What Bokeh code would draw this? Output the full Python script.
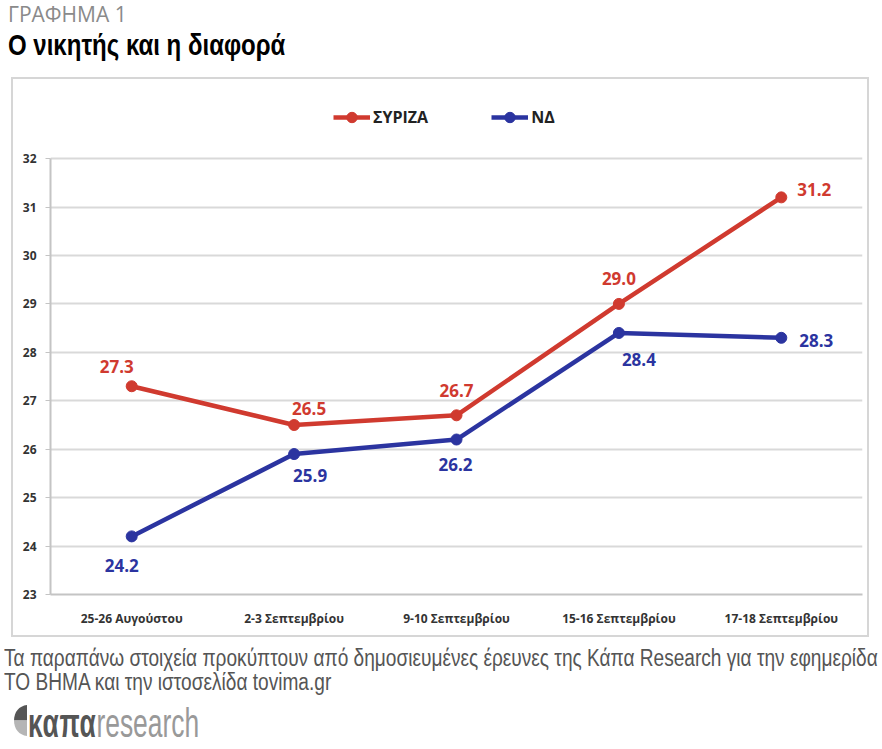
from bokeh.plotting import figure
from bokeh.models import ColumnDataSource, Legend, LegendItem, Div
from bokeh.core.properties import value
from bokeh.layouts import column
from bokeh.embed import file_html
from bokeh.resources import INLINE

# data
dates = ["25-26 Αυγούστου", "2-3 Σεπτεμβρίου", "9-10 Σεπτεμβρίου",
         "15-16 Σεπτεμβρίου", "17-18 Σεπτεμβρίου"]
syriza = [27.3, 26.5, 26.7, 29.0, 31.2]
nd = [24.2, 25.9, 26.2, 28.4, 28.3]
y_ticks = [23, 24, 25, 26, 27, 28, 29, 30, 31, 32]

# where the value labels sit, in px from their point
syriza_dx = [-15, 15, 0, 0, 33]
syriza_dy = [-20, -16, -25, -25, -8]
nd_dx = [-10, 16, -1, 20, 35]
nd_dy = [29, 21, 25, 27, 3]

RED = "#d03a2f"
BLUE = "#2b34a0"
FONT = "Open Sans"
SANS = "'Liberation Sans', Arial, sans-serif"

header = Div(width=882, height=77, margin=0, text=f"""
<div style="position:relative;width:882px;height:77px;">
 <div style="position:absolute;left:8px;top:4px;font-family:'Open Sans';font-size:21px;line-height:21px;color:#8a8a8a;white-space:nowrap;">ΓΡΑΦΗΜΑ 1</div>
 <div style="position:absolute;left:8px;top:30px;font-family:{SANS};font-weight:bold;font-size:30px;line-height:30px;color:#000;white-space:nowrap;transform:scaleX(0.8);transform-origin:0 0;">Ο νικητής και η διαφορά</div>
</div>""")

# frame runs up into the legend strip; the axis itself stops at 32
p = figure(x_range=dates, y_range=(23, 33.2), width=858, height=560,
           min_border_left=37, min_border_right=9, min_border_top=21, min_border_bottom=45,
           output_backend="svg", toolbar_location=None, margin=(0, 0, 0, 11),
           styles={"border": "2px solid #d6d6d6"})
p.outline_line_color = None
p.background_fill_color = "white"
p.border_fill_color = "white"

p.xgrid.grid_line_color = None
p.ygrid.grid_line_color = "#d9d9d9"
p.ygrid.grid_line_width = 2

p.yaxis.ticker = y_ticks
p.yaxis.bounds = (23, 32)
p.yaxis.axis_line_color = "#c4c4c4"
p.yaxis.axis_line_width = 2
p.yaxis.major_tick_line_color = "#c4c4c4"
p.yaxis.major_tick_in = 0
p.yaxis.major_tick_out = 5
p.yaxis.minor_tick_line_color = None
p.yaxis.major_label_standoff = 9
p.yaxis.major_label_text_font = FONT
p.yaxis.major_label_text_font_style = "bold"
p.yaxis.major_label_text_font_size = "12px"
p.yaxis.major_label_text_color = "#333333"

p.xaxis.axis_line_color = "#c4c4c4"
p.xaxis.axis_line_width = 2
p.xaxis.major_tick_line_color = None
p.xaxis.major_label_standoff = 9
p.xaxis.major_label_text_font = FONT
p.xaxis.major_label_text_font_style = "bold"
p.xaxis.major_label_text_font_size = "12px"
p.xaxis.major_label_text_color = "#333333"

src_s = ColumnDataSource(dict(x=dates, y=syriza, t=[f"{v:.1f}" for v in syriza],
                              dx=syriza_dx, dy=syriza_dy))
src_n = ColumnDataSource(dict(x=dates, y=nd, t=[f"{v:.1f}" for v in nd],
                              dx=nd_dx, dy=nd_dy))

ls = p.line("x", "y", source=src_s, color=RED, line_width=4.5)
ms = p.scatter("x", "y", source=src_s, color=RED, size=11)
ln = p.line("x", "y", source=src_n, color=BLUE, line_width=4.5)
mn = p.scatter("x", "y", source=src_n, color=BLUE, size=11)

for src, c in ((src_s, RED), (src_n, BLUE)):
    p.text("x", "y", text="t", source=src, x_offset="dx", y_offset="dy",
           text_color=c, text_font=value(FONT), text_font_style="bold",
           text_font_size="17px", text_align="center", text_baseline="middle")

legend = Legend(items=[LegendItem(label="ΣΥΡΙΖΑ", renderers=[ls, ms]),
                       LegendItem(label="ΝΔ", renderers=[ln, mn])],
                orientation="horizontal", location=(283, 464),
                glyph_width=37, glyph_height=26, label_standoff=3, spacing=63,
                padding=0, margin=0, border_line_color=None, background_fill_alpha=0,
                label_text_font=FONT, label_text_font_style="bold",
                label_text_font_size="16px", label_text_color="#222222")
p.add_layout(legend, "center")

footer = Div(width=882, height=108, margin=0, text=f"""
<div style="position:relative;width:882px;height:108px;">
 <div style="position:absolute;left:4px;top:9px;font-family:{SANS};font-size:23px;line-height:24px;color:#555555;white-space:nowrap;transform:scaleX(0.83);transform-origin:0 0;">Τα παραπάνω στοιχεία προκύπτουν από δημοσιευμένες έρευνες της Κάπα Research για την εφημερίδα<br>ΤΟ ΒΗΜΑ και την ιστοσελίδα tovima.gr</div>
 <svg style="position:absolute;left:14px;top:68px;" width="13" height="31" viewBox="0 0 13 31">
  <path d="M13 0 L13 15.5 L0 15.5 C0 7 5 1 13 0 Z" fill="#555555"/>
  <path d="M13 15.5 L13 31 C5 30 0 24 0 15.5 Z" fill="#b5b5b5"/>
 </svg>
 <div style="position:absolute;left:28px;top:66px;font-family:{SANS};font-size:40px;line-height:40px;white-space:nowrap;transform:scaleX(0.66);transform-origin:0 0;">
  <span style="font-weight:bold;color:#555555;letter-spacing:1px;">καπα</span><span style="color:#999999;">research</span></div>
</div>""")

layout = column(header, p, footer, spacing=0)
open("out.html", "w").write(file_html(layout, INLINE))
